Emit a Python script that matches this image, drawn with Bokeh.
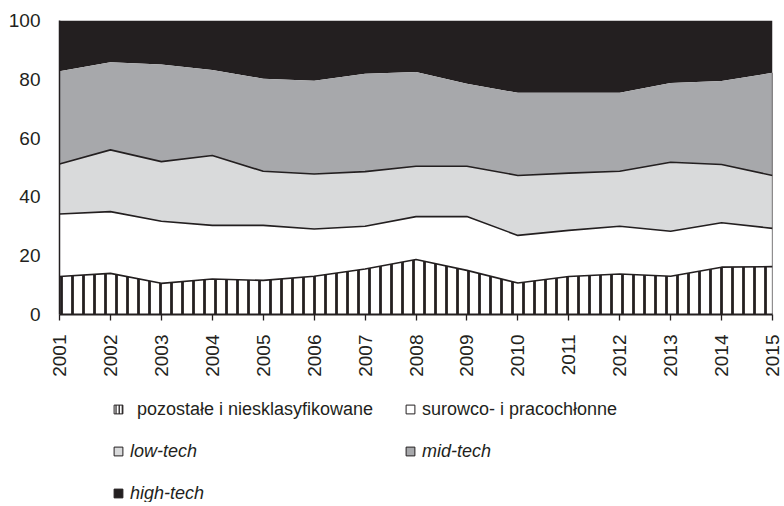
import math
import numpy as np
from bokeh.plotting import figure
from bokeh.layouts import column
from bokeh.models import ColumnDataSource, FixedTicker, Legend, LegendItem, Range1d
from bokeh.embed import file_html
from bokeh.resources import INLINE

years = [2001, 2002, 2003, 2004, 2005, 2006, 2007, 2008, 2009, 2010, 2011, 2012, 2013, 2014, 2015]
pozostale = [12.9, 14.0, 10.6, 12.1, 11.6, 13.0, 15.5, 18.7, 15.0, 10.7, 12.9, 13.8, 13.0, 16.1, 16.3]
surowco = [21.3, 21.0, 21.1, 18.2, 18.7, 16.1, 14.5, 14.6, 18.3, 16.2, 15.7, 16.2, 15.3, 15.1, 13.0]
low_tech = [17.0, 21.0, 20.3, 23.8, 18.4, 18.7, 18.6, 17.1, 17.1, 20.4, 19.5, 18.7, 23.5, 19.8, 18.0]
mid_tech = [31.5, 29.8, 33.0, 29.1, 31.5, 31.7, 33.3, 32.1, 28.1, 28.1, 27.3, 26.7, 26.9, 28.4, 34.9]
high_tech = [17.3, 14.2, 15.0, 16.8, 19.8, 20.5, 18.1, 17.5, 21.5, 24.6, 24.6, 24.6, 21.3, 20.6, 17.8]
y_ticks = [0, 20, 40, 60, 80, 100]
series_labels = ["pozostałe i niesklasyfikowane", "surowco- i pracochłonne",
                 "low-tech", "mid-tech", "high-tech"]

INK = "#231f20"
MID = "#a7a8ab"
LOW = "#d9dadb"
FONT = "Liberation Sans"
W = 784
H1 = 392
H2 = 110

c1 = np.array(pozostale)
c2 = c1 + np.array(surowco)
c3 = c2 + np.array(low_tech)
c4 = c3 + np.array(mid_tech)
c5 = c4 + np.array(high_tech)
zero = np.zeros(len(years))

src = ColumnDataSource(dict(x=years, z=zero, c1=c1, c2=c2, c3=c3, c4=c4, c5=c5))

p = figure(width=W, height=H1, output_backend="svg", toolbar_location=None,
           x_range=Range1d(years[0], years[-1]), y_range=Range1d(0, 100),
           min_border_left=59, min_border_right=W - 772, min_border_top=20,
           min_border_bottom=H1 - 314)
p.outline_line_color = None
p.grid.visible = False
p.background_fill_color = "white"

p.varea(x="x", y1="c4", y2="c5", source=src, fill_color=INK)
p.varea(x="x", y1="c3", y2="c4", source=src, fill_color=MID)
p.varea(x="x", y1="c2", y2="c3", source=src, fill_color=LOW)
p.varea(x="x", y1="c1", y2="c2", source=src, fill_color="white")
p.varea(x="x", y1="z", y2="c1", source=src, fill_color="white",
        hatch_pattern="|", hatch_color=INK, hatch_scale=11, hatch_weight=2.8)

for col in ["c1", "c2", "c3"]:
    p.line(x="x", y=col, source=src, line_color=INK, line_width=1.6)
p.segment(x0=[years[-1]], y0=[0], x1=[years[-1]], y1=[c4[-1]], line_color=INK, line_width=1.2)

# axes
p.yaxis.ticker = FixedTicker(ticks=y_ticks)
p.yaxis.major_tick_line_color = None
p.yaxis.major_tick_out = 0
p.yaxis.major_tick_in = 0
p.yaxis.minor_tick_line_color = None
p.yaxis.axis_line_color = INK
p.yaxis.axis_line_width = 1.5
p.yaxis.major_label_standoff = 19
p.yaxis.major_label_text_font = FONT
p.yaxis.major_label_text_font_size = "19px"
p.yaxis.major_label_text_color = INK

p.xaxis.ticker = FixedTicker(ticks=years)
p.xaxis.major_label_overrides = {y: str(y) for y in years}
p.xaxis.major_tick_line_color = INK
p.xaxis.major_tick_line_width = 1.3
p.xaxis.major_tick_out = 6
p.xaxis.major_tick_in = 0
p.xaxis.minor_tick_line_color = None
p.xaxis.axis_line_color = INK
p.xaxis.axis_line_width = 2
p.xaxis.major_label_orientation = math.pi / 2
p.xaxis.major_label_standoff = 14
p.xaxis.major_label_text_font = FONT
p.xaxis.major_label_text_font_size = "19px"
p.xaxis.major_label_text_color = INK

# legend panel
p2 = figure(width=W, height=H2, output_backend="svg", toolbar_location=None,
            x_range=Range1d(0, 1), y_range=Range1d(0, 1),
            x_axis_location=None, y_axis_location=None, min_border=0)
p2.outline_line_color = None
p2.grid.visible = False

fills = ["white", "white", LOW, MID, INK]
swatches = []
for i, fc in enumerate(fills):
    kw = dict(marker="square", fill_color=fc, line_color=INK, line_width=1)
    if i == 0:
        kw.update(hatch_pattern="|", hatch_color=INK, hatch_scale=3.2, hatch_weight=1.2)
    swatches.append(p2.scatter(x=[float("nan")], y=[float("nan")], **kw))

positions = [(48, 82, 8), (340, 82, 1), (48, 40, 1), (340, 40, 1), (48, -2, 1)]
for i, (lab, r, (lx, ly, so)) in enumerate(zip(series_labels, swatches, positions)):
    leg = Legend(items=[LegendItem(label=lab, renderers=[r])], location=(lx, ly),
                 border_line_color=None, background_fill_alpha=0, padding=0, margin=0,
                 spacing=0, glyph_width=22, glyph_height=22, label_height=22,
                 label_standoff=so, label_text_font=FONT, label_text_font_size="18px",
                 label_text_color=INK, label_text_font_style="normal" if i < 2 else "italic")
    p2.add_layout(leg)

layout = column(p, p2, spacing=0)
open("out.html", "w").write(file_html(layout, INLINE))
